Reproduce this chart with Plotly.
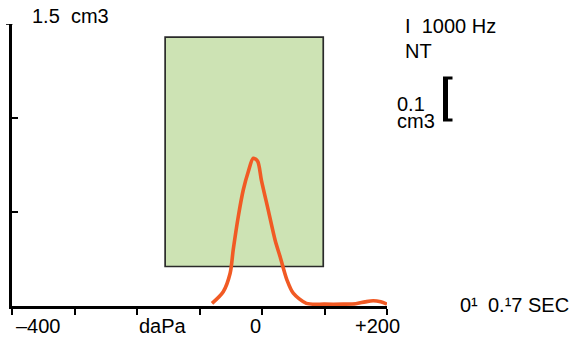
import plotly.graph_objects as go

# ---- data ----
pressure = [-80, -62, -51, -46, -38, -30, -22, -14, -7, -1, 10, 21, 29, 40, 50, 71, 100, 130, 150, 165, 178, 190, 200]
admittance = [0.014, 0.076, 0.174, 0.30, 0.475, 0.617, 0.714, 0.786, 0.77, 0.67, 0.51, 0.35, 0.262, 0.138, 0.068, 0.014, 0.01, 0.01, 0.012, 0.022, 0.028, 0.022, 0.01]
band_x = [-155, 98]
band_y = [0.21, 1.43]
x_tickvals = [-400, -300, -200, -100, 0, 100, 200]
x_labels = ["\u2013400", "daPa", "0", "+200"]
x_label_pos = [-358, -158, -10, 185]
y_tickvals = [0, 0.5, 1.0, 1.5]

FONT = "Liberation Sans, Arial, Helvetica, sans-serif"
W, H = 585, 338
S_L, S_R, S_T, S_B = 12, 387, 24, 306   # plot area in screen pixels
PW, PH = S_R - S_L, S_B - S_T
L, T = S_L, S_T
R, B = W - S_R, H - S_B


def pxx(sx):
    return (sx - S_L) / PW


def pxy(sy):
    return (S_B - sy) / PH


fig = go.Figure()
fig.add_trace(go.Scatter(
    x=pressure, y=admittance, mode="lines",
    line=dict(color="#F15A24", width=3.6, shape="spline", smoothing=0.8),
    cliponaxis=False, hoverinfo="skip", showlegend=False,
))

shapes = [
    dict(type="rect", xref="x", yref="y", x0=band_x[0], x1=band_x[1], y0=band_y[0], y1=band_y[1],
         fillcolor="#CDE3B4", line=dict(color="#2a2a2a", width=1.7), layer="below"),
    # top cap of the y axis
    dict(type="line", xref="paper", yref="y", x0=pxx(6), x1=pxx(12.5), y0=1.5, y1=1.5,
         line=dict(color="black", width=1.6)),
    # scale bracket
    dict(type="path", xref="paper", yref="paper",
         path=("M {a},{t} L {c},{t} L {c},{t2} L {b},{t2} L {b},{b2} L {c},{b2} L {c},{bb} L {a},{bb} Z").format(
             a=pxx(443), b=pxx(448), c=pxx(452.5), t=pxy(76.5), t2=pxy(79.5), b2=pxy(118.5), bb=pxy(121.5)),
         fillcolor="black", line=dict(width=0)),
]

ann_font = dict(family=FONT, size=20, color="black")
annotations = []


def add_text(text, x, y, yanchor="middle"):
    annotations.append(dict(text=text, xref="paper", yref="paper", x=pxx(x), y=pxy(y),
                            xanchor="left", yanchor=yanchor, showarrow=False, font=ann_font,
                            borderpad=0))


add_text("1.5\u00a0\u00a0cm3", 30.5, 16)
add_text("I\u00a0\u00a01000 Hz", 404, 26.5)
add_text("NT", 404, 50.5)
add_text("0.1", 396, 104)
add_text("cm3", 396, 120.5)
add_text("0\u00b9", 459, 305)
add_text("0.\u00b97", 487, 305)
add_text("SEC", 527, 305)

for lab, pos in zip(x_labels, x_label_pos):
    annotations.append(dict(text=lab, xref="x", yref="paper", x=pos, y=pxy(326),
                            xanchor="center", yanchor="middle", showarrow=False,
                            font=ann_font, borderpad=0))

fig.update_layout(
    width=W, height=H,
    margin=dict(l=L, r=R, t=T, b=B, pad=0, autoexpand=False),
    paper_bgcolor="white", plot_bgcolor="white",
    font=dict(family=FONT, size=20, color="black"),
    shapes=shapes, annotations=annotations,
    xaxis=dict(range=[-400, 200], tickvals=x_tickvals, showticklabels=False,
               ticks="outside", ticklen=6, tickwidth=1.5, tickcolor="black",
               showline=True, linecolor="black", linewidth=2.5, automargin=False,
               showgrid=False, zeroline=False, fixedrange=True),
    yaxis=dict(range=[0, 1.5], tickvals=y_tickvals, showticklabels=False,
               ticks="inside", ticklen=6, tickwidth=1.5, tickcolor="black",
               showline=True, linecolor="black", linewidth=2.5, automargin=False,
               showgrid=False, zeroline=False, fixedrange=True),
)

fig.write_html("out.html", config={"displayModeBar": False},
               post_script="document.body.style.margin='0';")
